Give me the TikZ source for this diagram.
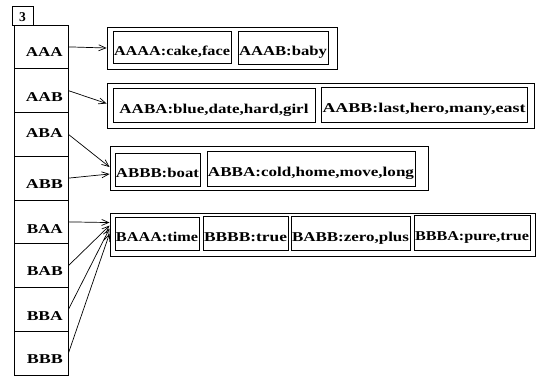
\documentclass[tikz,border=0pt]{standalone}
\usepackage{graphicx}
\usepackage{fontspec}
\setmainfont{Liberation Serif}
\usetikzlibrary{arrows.meta,calc}
\newcommand{\fitw}[2]{\resizebox{#1}{\height}{#2}}
\begin{document}
\begin{tikzpicture}[x=1pt,y=-1pt,
  every node/.style={font=\fontsize{13.5}{15}\selectfont\bfseries},
  cell/.style={draw,line width=0.9pt,minimum width=54pt,minimum height=43.75pt,inner sep=0pt},
  lab/.style={anchor=base east,inner sep=0pt},
  obox/.style={draw,line width=0.9pt,inner sep=0pt},
  ibox/.style={draw,line width=0.8pt,inner sep=0pt,text height=16pt,text depth=0pt},
  conn/.style={line width=0.7pt,-{Straight Barb[length=7pt,width=6pt,line width=0.7pt]}}]
\useasboundingbox (0,0) rectangle (538,376);
% header box
\node[draw,line width=0.9pt,minimum width=21pt,minimum height=19pt,inner sep=0pt,text height=11pt,text depth=0pt] (n3) at (22.5,15.5) {3};
% cells
\node[cell] (cAAA) at (41,46.875) {};
\node[cell] (cAAB) at (41,90.625) {};
\node[cell] (cABA) at (41,134.375) {};
\node[cell] (cABB) at (41,178.125) {};
\node[cell] (cBAA) at (41,221.875) {};
\node[cell] (cBAB) at (41,265.625) {};
\node[cell] (cBBA) at (41,309.375) {};
\node[cell] (cBBB) at (41,353.125) {};
\node[lab] (lAAA) at (63,56.5) {\fitw{37pt}{AAA}};
\node[lab] (lAAB) at (63,101) {\fitw{37pt}{AAB}};
\node[lab] (lABA) at (63,137.5) {\fitw{37pt}{ABA}};
\node[lab] (lABB) at (63,188) {\fitw{37pt}{ABB}};
\node[lab] (lBAA) at (63,233) {\fitw{36pt}{BAA}};
\node[lab] (lBAB) at (63,275) {\fitw{36pt}{BAB}};
\node[lab] (lBBA) at (63,320) {\fitw{36pt}{BBA}};
\node[lab] (lBBB) at (63,363) {\fitw{36pt}{BBB}};
% outer boxes
\node[obox,minimum width=230pt,minimum height=42pt] (r1) at (222,48) {};
\node[obox,minimum width=427pt,minimum height=45pt] (r2) at (320.5,105.5) {};
\node[obox,minimum width=318pt,minimum height=44pt] (r3) at (269,168) {};
\node[obox,minimum width=425pt,minimum height=43pt] (r4) at (322.5,234.5) {};
% inner boxes row 1
\node[ibox,minimum width=118pt,minimum height=32pt] (b11) at (172,47) {\fitw{116pt}{AAAA:cake,face}};
\node[ibox,minimum width=90pt,minimum height=33pt] (b12) at (283,47.5) {\fitw{88pt}{AAAB:baby}};
% row 2
\node[ibox,minimum width=202pt,minimum height=34pt] (b21) at (214,105) {\fitw{189pt}{AABA:blue,date,hard,girl}\hspace{11pt}};
\node[ibox,minimum width=206pt,minimum height=35pt] (b22) at (424,104.5) {\fitw{203pt}{AABB:last,hero,many,east}};
% row 3
\node[ibox,minimum width=85pt,minimum height=33pt] (b31) at (157.5,169.5) {\fitw{83pt}{ABBB:boat}};
\node[ibox,minimum width=208pt,minimum height=35pt] (b32) at (311,168.5) {\fitw{206pt}{ABBA:cold,home,move,long}};
% row 4
\node[ibox,minimum width=84pt,minimum height=33pt] (b41) at (157,233.5) {\fitw{82pt}{BAAA:time}};
\node[ibox,minimum width=85pt,minimum height=34pt] (b42) at (245.5,233) {\fitw{83pt}{BBBB:true}};
\node[ibox,minimum width=119pt,minimum height=34pt] (b43) at (350.5,233) {\fitw{117pt}{BABB:zero,plus}};
\node[ibox,minimum width=116pt,minimum height=35pt] (b44) at (472,232.5) {\fitw{114pt}{BBBA:pure,true}};
% connectors
\draw[conn] (cAAA.east) -- (r1.west);
\draw[conn] (cAAB.east) -- ($(r2.west)+(0,-2)$);
\draw[conn] (cABA.east) -- ($(r3.west)+(0,-1)$);
\draw[conn] (cABB.east) -- ($(r3.west)+(0,6)$);
\draw[conn] (cBAA.east) -- ($(r4.north west)+(0,10)$);
\draw[conn] (cBAB.east) -- ($(r4.north west)+(0,13)$);
\draw[conn] (cBBA.east) -- ($(r4.north west)+(0,16)$);
\draw[conn] (cBBB.east) -- ($(r4.north west)+(0,21)$);
\end{tikzpicture}
\end{document}
